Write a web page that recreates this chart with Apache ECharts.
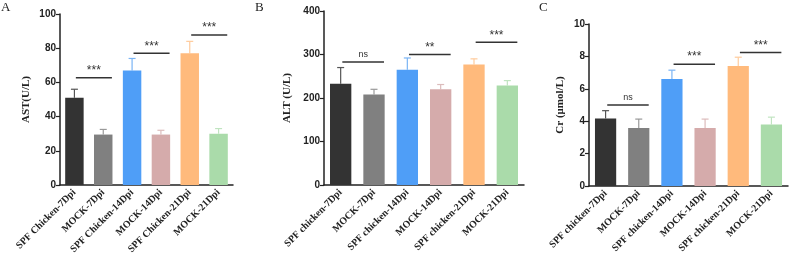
<!DOCTYPE html>
<html>
<head>
<meta charset="utf-8">
<script src="https://cdn.jsdelivr.net/npm/echarts@6/dist/echarts.min.js"></script>
<style>
    html, body { margin: 0; padding: 0; background: #fff; }
    #main { width: 791px; height: 257px; }
</style>
</head>
<body>
<div id="main"></div>
<script>
// categories for each panel
var catsA = ['SPF Chicken-7Dpi', 'MOCK-7Dpi', 'SPF Chicken-14Dpi', 'MOCK-14Dpi', 'SPF Chicken-21Dpi', 'MOCK-21Dpi'];
var catsB = ['SPF chicken-7Dpi', 'MOCK-7Dpi', 'SPF chicken-14Dpi', 'MOCK-14Dpi', 'SPF chicken-21Dpi', 'MOCK-21Dpi'];
var catsC = ['SPF chicken-7Dpi', 'MOCK-7Dpi', 'SPF chicken-14Dpi', 'MOCK-14Dpi', 'SPF chicken-21Dpi', 'MOCK-21Dpi'];

// means and upper ends of the error bars
var astMean = [51, 29.5, 67, 29.5, 77, 30];
var astUpper = [56, 32.5, 74, 32, 84, 33];
var altMean = [233, 208, 265, 220, 277, 229];
var altUpper = [270, 220, 292, 231, 290, 240];
var crMean = [4.17, 3.58, 6.6, 3.58, 7.4, 3.8];
var crUpper = [4.65, 4.13, 7.15, 4.13, 7.95, 4.25];

// significance brackets: [from category, to category, height, label]
var sigA = [[0, 1, 62.7, '***'], [2, 3, 77, '***'], [4, 5, 87.7, '***']];
var sigB = [[0, 1, 283, 'ns'], [2, 3, 300, '**'], [4, 5, 328, '***']];
var sigC = [[0, 1, 5.0, 'ns'], [2, 3, 7.52, '***'], [4, 5, 8.24, '***']];

var barColors = ['#333333', '#808080', '#4f9ef7', '#d5abab', '#ffba7c', '#aadbaa'];
var errColors = ['#555555', '#999999', '#7ab4f5', '#dcbcbc', '#ffcb9c', '#c0e4c0'];

var chart = echarts.init(document.getElementById('main'));

function makeX(idx, cats) {
    return {
        type: 'category', gridIndex: idx, data: cats,
        axisLine: { lineStyle: { color: '#222', width: 1.5 } },
        axisTick: { alignWithLabel: true, length: 4, lineStyle: { color: '#222', width: 1.2 } },
        axisLabel: {
            rotate: 45, interval: 0, margin: 6,
            fontFamily: 'Liberation Serif', fontWeight: 'bold', fontSize: 10, color: '#222'
        }
    };
}
function makeY(idx, max, step, name, gap) {
    return {
        type: 'value', gridIndex: idx, min: 0, max: max, interval: step,
        name: name, nameLocation: 'middle', nameGap: gap,
        nameTextStyle: { fontFamily: 'Liberation Serif', fontWeight: 'bold', fontSize: 11, color: '#222' },
        axisLine: { show: true, lineStyle: { color: '#222', width: 1.5 } },
        axisTick: { show: true, length: 4, lineStyle: { color: '#222', width: 1.2 } },
        splitLine: { show: false },
        axisLabel: { fontFamily: 'Liberation Sans', fontWeight: 'bold', fontSize: 10, color: '#222', margin: 4 }
    };
}
function barSeries(idx, means) {
    return {
        type: 'bar', xAxisIndex: idx, yAxisIndex: idx, barWidth: '64%',
        data: means.map(function (v, i) {
            return { value: v, itemStyle: { color: barColors[i] } };
        })
    };
}
function errSeries(idx, means, uppers) {
    return {
        type: 'custom', xAxisIndex: idx, yAxisIndex: idx, z: 1,
        data: means.map(function (v, i) { return [i, v, uppers[i]]; }),
        encode: { x: 0, y: 2 },
        renderItem: function (params, api) {
            var i = api.value(0);
            var p0 = api.coord([i, api.value(1)]);
            var p1 = api.coord([i, api.value(2)]);
            var c = errColors[i];
            return {
                type: 'group',
                children: [
                    { type: 'line', shape: { x1: p0[0], y1: p0[1], x2: p1[0], y2: p1[1] }, style: { stroke: c, lineWidth: 1.2 } },
                    { type: 'line', shape: { x1: p1[0] - 3.5, y1: p1[1], x2: p1[0] + 3.5, y2: p1[1] }, style: { stroke: c, lineWidth: 1.2 } }
                ]
            };
        }
    };
}
function sigSeries(idx, sig) {
    return {
        type: 'custom', xAxisIndex: idx, yAxisIndex: idx, z: 5,
        data: sig,
        encode: { x: 0, y: 2 },
        renderItem: function (params, api) {
            var band = api.size([1, 0])[0];
            var a = api.coord([api.value(0), api.value(2)]);
            var b = api.coord([api.value(1), api.value(2)]);
            var x1 = a[0] + band * 0.05;
            var x2 = b[0] + band * 0.3;
            var label = sig[params.dataIndex][3];
            return {
                type: 'group',
                children: [
                    { type: 'line', shape: { x1: x1, y1: a[1], x2: x2, y2: a[1] }, style: { stroke: '#333', lineWidth: 1.5 } },
                    {
                        type: 'text', x: (x1 + x2) / 2, y: a[1] - (label === 'ns' ? 3 : 1),
                        style: {
                            text: label, textAlign: 'center', textVerticalAlign: 'bottom',
                            fontFamily: 'Liberation Sans', fontSize: label === 'ns' ? 9 : 12, fill: '#333'
                        }
                    }
                ]
            };
        }
    };
}

var option = {
    backgroundColor: '#fff',
    animation: false,
    graphic: [
        { type: 'text', left: 1, top: 1, style: { text: 'A', fontFamily: 'Liberation Serif', fontSize: 13, fill: '#222' } },
        { type: 'text', left: 255, top: 1, style: { text: 'B', fontFamily: 'Liberation Serif', fontSize: 13, fill: '#222' } },
        { type: 'text', left: 539, top: 1, style: { text: 'C', fontFamily: 'Liberation Serif', fontSize: 13, fill: '#222' } }
    ],
    grid: [
        { left: 60, right: 558, top: 14, bottom: 72 },
        { left: 324, right: 267, top: 11, bottom: 72 },
        { left: 589, right: 3, top: 24, bottom: 71 }
    ],
    xAxis: [makeX(0, catsA), makeX(1, catsB), makeX(2, catsC)],
    yAxis: [
        makeY(0, 100, 20, 'AST(U/L)', 28),
        makeY(1, 400, 100, 'ALT (U/L)', 31),
        makeY(2, 10, 2, 'Cr (μmol/L)', 23)
    ],
    series: [
        barSeries(0, astMean), errSeries(0, astMean, astUpper), sigSeries(0, sigA),
        barSeries(1, altMean), errSeries(1, altMean, altUpper), sigSeries(1, sigB),
        barSeries(2, crMean), errSeries(2, crMean, crUpper), sigSeries(2, sigC)
    ]
};
chart.setOption(option);
</script>
</body>
</html>
